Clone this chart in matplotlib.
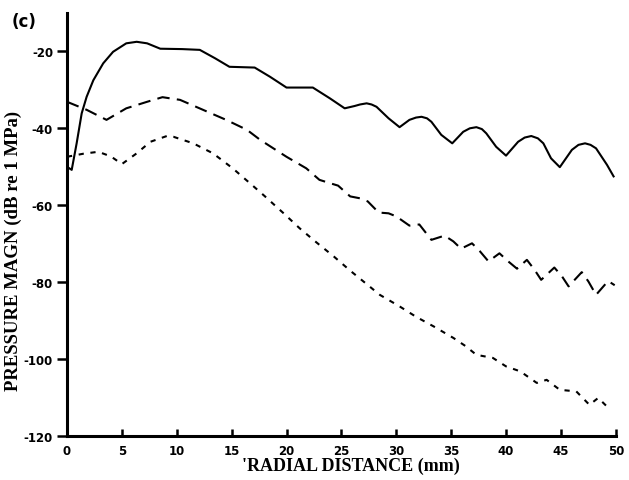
import matplotlib
matplotlib.use("Agg")
import matplotlib.pyplot as plt

# ---- data ----
solid_x = [0.0, 0.43, 0.88, 1.34, 1.79, 2.4, 3.3, 4.2, 5.4, 6.35, 7.3, 8.5, 10.5, 12.1,
           13.5, 14.8, 17.1, 18.5, 20.0, 22.4, 23.95, 25.3, 26.2, 26.7, 27.3, 27.75, 28.2,
           29.3, 30.3, 31.2, 31.8, 32.3, 32.8, 33.2, 34.1, 35.1, 36.1, 36.7, 37.3, 37.8,
           38.2, 39.1, 40.0, 41.1, 41.7, 42.3, 42.9, 43.4, 44.1, 44.9, 46.0, 46.6, 47.2,
           47.7, 48.2, 49.2, 49.8]
solid_y = [-50.0, -50.8, -43.9, -36.1, -31.8, -27.5, -23.1, -20.1, -17.9, -17.5, -17.9, -19.3,
           -19.4, -19.6, -21.8, -24.0, -24.2, -26.6, -29.4, -29.4, -32.2, -34.8, -34.2, -33.8,
           -33.5, -33.8, -34.4, -37.4, -39.7, -37.8, -37.2, -37.0, -37.4, -38.3, -41.7, -43.9,
           -40.9, -40.0, -39.7, -40.2, -41.3, -44.8, -47.1, -43.5, -42.4, -42.0, -42.6, -43.9,
           -47.8, -50.1, -45.6, -44.3, -43.9, -44.3, -45.2, -49.5, -52.5]

dash_x = [0.0, 1.8, 3.6, 5.4, 7.3, 8.7, 10.3, 12.4, 14.5, 16.4, 17.6, 18.8, 20.0, 21.8,
          23.0, 24.0, 24.7, 25.8, 26.7, 27.4, 28.4, 29.3, 30.0, 31.2, 32.1, 33.2, 34.4,
          35.2, 35.9, 36.9, 37.6, 38.4, 39.4, 40.2, 41.0, 41.9, 42.6, 43.2, 44.4, 45.1,
          45.7, 46.9, 47.5, 48.2, 49.3, 49.9]
dash_y = [-33.1, -35.2, -37.8, -34.8, -33.1, -31.9, -32.6, -35.2, -37.8, -40.4, -43.0, -45.2,
          -47.4, -50.4, -53.4, -54.3, -54.9, -57.7, -58.2, -59.0, -61.9, -62.1, -62.9, -65.3,
          -65.0, -69.0, -67.9, -69.4, -71.3, -69.9, -71.9, -74.6, -72.5, -74.6, -76.5, -74.2,
          -76.8, -79.4, -76.2, -78.5, -81.1, -77.4, -79.8, -83.3, -79.7, -80.8]

dot_x = [0.0, 1.5, 2.85, 4.0, 5.0, 6.35, 7.6, 9.1, 9.7, 11.5, 13.3, 15.1, 17.0, 18.0, 19.7,
         21.2, 22.7, 24.3, 25.8, 27.3, 28.5, 30.3, 31.8, 33.4, 35.2, 36.3, 37.3, 38.8, 40.0,
         41.3, 42.8, 43.7, 44.9, 46.4, 47.6, 48.4, 49.5]
dot_y = [-47.4, -46.6, -46.1, -47.3, -49.3, -46.5, -43.5, -42.0, -42.2, -43.9, -46.5, -50.4,
         -55.1, -57.6, -62.0, -66.0, -69.6, -73.3, -77.0, -80.5, -83.3, -86.3, -89.0, -91.5,
         -94.5, -96.6, -98.9, -99.7, -101.9, -103.2, -106.2, -105.4, -108.0, -108.4, -111.9,
         -110.1, -113.2]

x_ticks = [0, 5, 10, 15, 20, 25, 30, 35, 40, 45, 50]
y_ticks = [-20, -40, -60, -80, -100, -120]

plt.rcParams['axes.unicode_minus'] = False

fig = plt.figure(figsize=(6.29, 4.81), dpi=100)
ax = fig.add_axes([0.1065, 0.0915, 0.8725, 0.8795])

ax.plot(solid_x, solid_y, color='black', lw=1.5, solid_joinstyle='round')
ax.plot(dash_x, dash_y, color='black', lw=1.5, dashes=(6, 3.5))
ax.plot(dot_x, dot_y, color='black', lw=1.5, dashes=(2.5, 3.2))

ax.set_xlim(0, 50)
ax.set_ylim(-120, -10)
ax.set_xticks(x_ticks)
ax.set_yticks(y_ticks)
ax.set_xticklabels([str(t) for t in x_ticks])
ax.set_yticklabels([str(t) for t in y_ticks])

for s in ['top', 'right']:
    ax.spines[s].set_visible(False)
for s in ['left', 'bottom']:
    ax.spines[s].set_linewidth(2.2)

ax.tick_params(axis='x', direction='in', length=5, width=1.8, pad=6)
ax.tick_params(axis='y', direction='out', length=7, width=1.8, pad=3)
for lab in ax.get_xticklabels() + ax.get_yticklabels():
    lab.set_fontfamily('DejaVu Sans')
    lab.set_fontweight('bold')
    lab.set_fontsize(8.5)

ax.set_xlabel("'RADIAL DISTANCE (mm)", fontfamily='Liberation Serif', fontweight='bold',
              fontsize=13)
ax.set_ylabel("PRESSURE MAGN (dB re 1 MPa)", fontfamily='Liberation Serif', fontweight='bold',
              fontsize=13.5)
ax.xaxis.set_label_coords(0.517, -0.05)
ax.yaxis.set_label_coords(-0.082, 0.44)

fig.text(0.018, 0.955, "(c)", fontfamily='DejaVu Sans', fontweight='bold', fontsize=12,
         ha='left', va='center')

fig.savefig("out.png", dpi=100)
